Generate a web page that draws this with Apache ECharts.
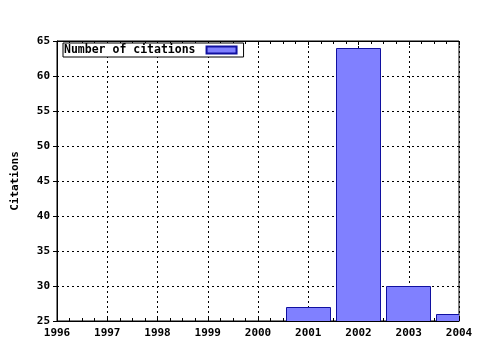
<!DOCTYPE html>
<html><head><meta charset="utf-8">
<script src="https://cdn.jsdelivr.net/npm/echarts@6/dist/echarts.min.js"></script>
<style>html,body{margin:0;padding:0;background:#fff}#c{width:480px;height:350px}</style>
</head><body><div id="c"></div>
<script>
const years = [2001, 2002, 2003, 2004];
const citations = [27, 64, 30, 26];
const seriesName = 'Number of citations';
const yTitle = 'Citations';
const yMin = 25, yMax = 65, yStep = 5;
const xMin = 1996, xMax = 2004;

const font = 'DejaVu Sans Mono';
const chart = echarts.init(document.getElementById('c'));
const lbl = {color:'#000', fontFamily:font, fontWeight:'bold', fontSize:11};
chart.setOption({
  animation:false,
  backgroundColor:'#fff',
  grid:{left:57, right:21, top:41, bottom:29, show:true, borderColor:'#000', borderWidth:1,
        containLabel:false, outerBoundsMode:'none'},
  legend:{
    show:true, left:63, top:43, orient:'horizontal', align:'right',
    data:[{name:seriesName, icon:'rect'}],
    itemWidth:30, itemHeight:7, itemGap:0,
    borderColor:'#000', borderWidth:1, backgroundColor:'#fff',
    padding:[1,6,1,1],
    textStyle:Object.assign({}, lbl, {fontSize:11.5, padding:[0,6,0,0]}),
    formatter:n=>n
  },
  xAxis:[{
    type:'value', min:xMin, max:xMax, interval:1, position:'bottom',
    axisLine:{show:true, lineStyle:{color:'#000'}},
    axisTick:{show:true, inside:true, length:4, lineStyle:{color:'#000'}},
    minorTick:{show:true, splitNumber:4, length:3, lineStyle:{color:'#000'}},
    axisLabel:Object.assign({}, lbl, {margin:7, formatter:v=>String(v)}),
    splitLine:{show:true, lineStyle:{color:'#000', type:[2,3]}}
  },{
    type:'value', min:xMin, max:xMax, interval:1, position:'top',
    axisLine:{show:true, lineStyle:{color:'#000'}},
    axisTick:{show:true, inside:true, length:4, lineStyle:{color:'#000'}},
    minorTick:{show:true, splitNumber:4, length:3, lineStyle:{color:'#000'}},
    axisLabel:{show:false}, splitLine:{show:false}
  }],
  yAxis:{
    type:'value', min:yMin, max:yMax, interval:yStep,
    name:yTitle, nameLocation:'middle', nameGap:36, nameRotate:90,
    nameTextStyle:lbl,
    axisLine:{show:true, lineStyle:{color:'#000'}},
    axisTick:{show:true, length:4, lineStyle:{color:'#000'}},
    axisLabel:Object.assign({}, lbl, {margin:7}),
    splitLine:{show:true, lineStyle:{color:'#000', type:[2,3]}}
  },
  series:[{
    name:seriesName, type:'custom', xAxisIndex:0, clip:true,
    data:years.map((y,i)=>[y, citations[i]]),
    itemStyle:{color:'#8080ff', borderColor:'#1010a0', borderWidth:1},
    renderItem:function(params, api){
      const x = api.value(0), v = api.value(1);
      const top = api.coord([x, v]);
      const base = api.coord([x, yMin]);
      const w = api.size([0.9, 0])[0];
      return {
        type:'rect',
        shape:{x:Math.round(top[0]-w/2)+0.5, y:Math.round(top[1])+0.5, width:Math.round(w)-1, height:Math.round(base[1]-top[1])},
        style:api.style({fill:'#8080ff', stroke:'#1010a0', lineWidth:1})
      };
    }
  }]
});
</script></body></html>
